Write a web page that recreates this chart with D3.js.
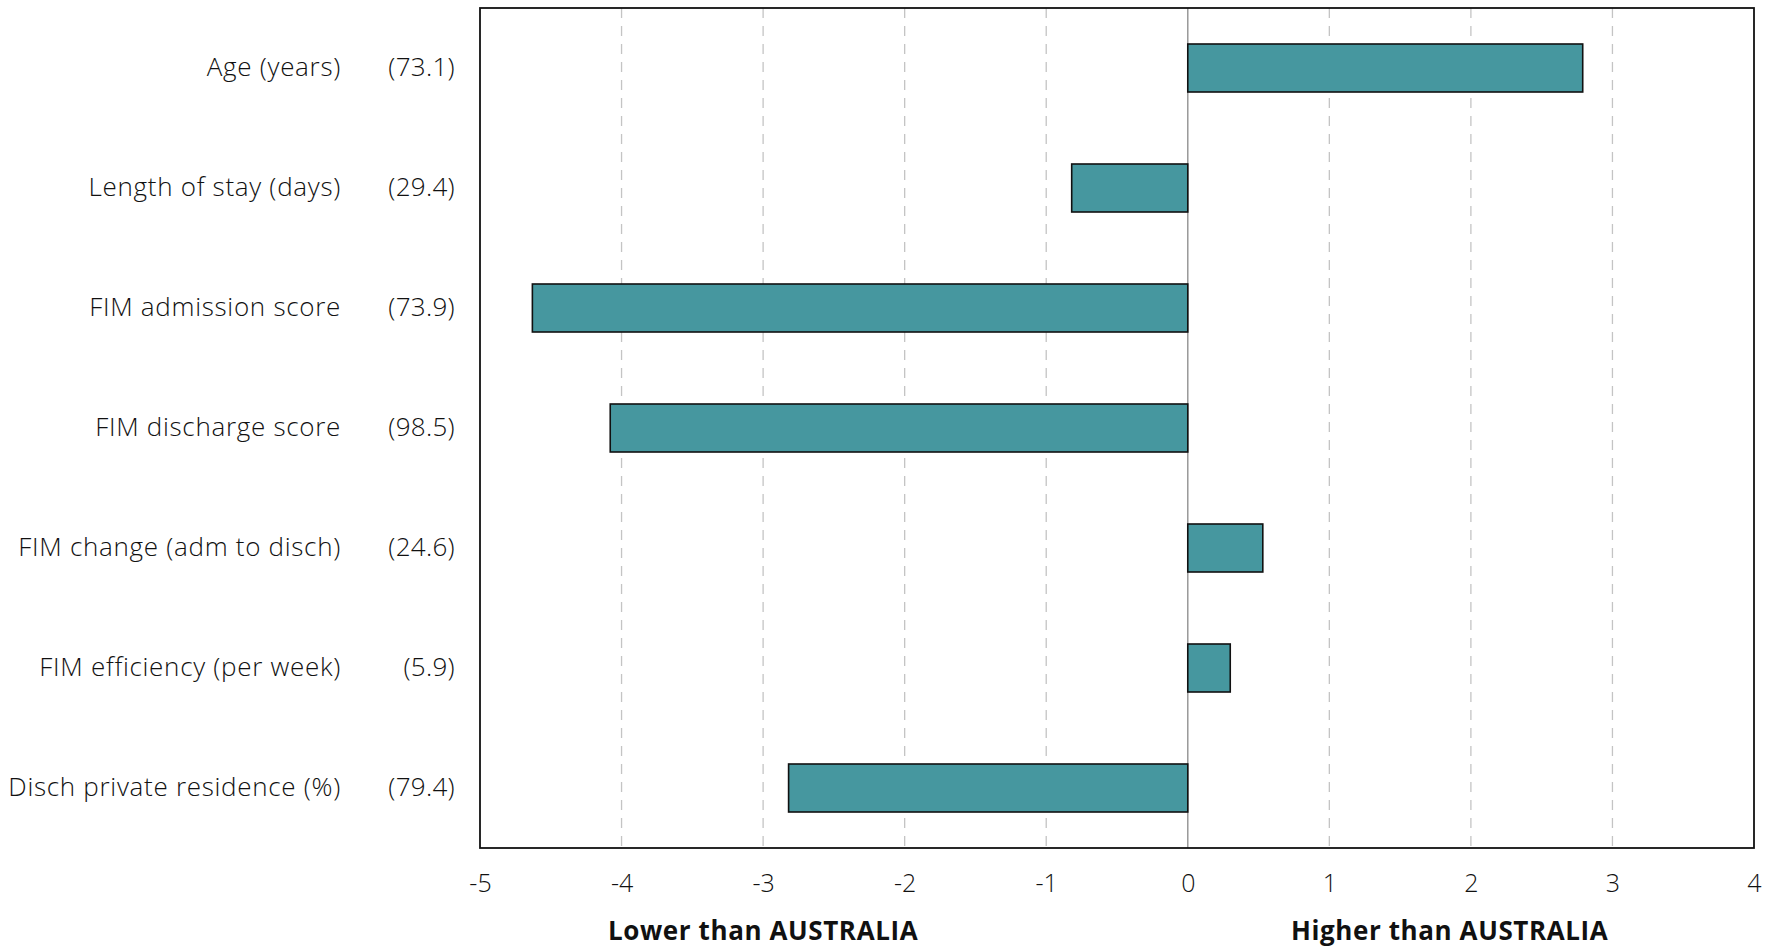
<!DOCTYPE html>
<html>
<head>
<meta charset="utf-8">
<script src="https://cdn.jsdelivr.net/npm/d3@7"></script>
<style>
  html, body { margin: 0; padding: 0; background: #fff; }
  svg { display: block; }
  text { font-family: "Open Sans", Lato, sans-serif; fill: #111; }
</style>
</head>
<body>
<svg id="chart" width="1768" height="952"></svg>
<script>
const categories = [
  "Age (years)",
  "Length of stay (days)",
  "FIM admission score",
  "FIM discharge score",
  "FIM change (adm to disch)",
  "FIM efficiency (per week)",
  "Disch private residence (%)"
];
const referenceValues = ["(73.1)", "(29.4)", "(73.9)", "(98.5)", "(24.6)", "(5.9)", "(79.4)"];
const differences = [2.79, -0.82, -4.63, -4.08, 0.53, 0.30, -2.82];
const xTicks = [-5, -4, -3, -2, -1, 0, 1, 2, 3, 4];
const sideLabels = [
  { text: "Lower than AUSTRALIA", at: -3 },
  { text: "Higher than AUSTRALIA", at: 1.85 }
];

const svg = d3.select("#chart");
const margin = { left: 480, right: 14, top: 8, bottom: 104 };
const W = 1768, H = 952;
const x0 = margin.left, x1 = W - margin.right, y0 = margin.top, y1 = H - margin.bottom;

const x = d3.scaleLinear().domain([-5, 4]).range([x0, x1]);
const y = d3.scaleBand().domain(categories).range([y0, y1]).paddingInner(0.6).paddingOuter(0.3);

// gridlines
svg.append("g").selectAll("line").data(xTicks.filter(t => t !== 0 && t !== -5 && t !== 4))
  .join("line")
  .attr("x1", d => x(d)).attr("x2", d => x(d))
  .attr("y1", y0).attr("y2", y1)
  .attr("stroke", "#c4c4c4").attr("stroke-width", 1.3)
  .attr("stroke-dasharray", "10,8");

// zero line
svg.append("line")
  .attr("x1", x(0)).attr("x2", x(0)).attr("y1", y0).attr("y2", y1)
  .attr("stroke", "#999").attr("stroke-width", 1.5);

// bars
svg.append("g").selectAll("rect").data(categories)
  .join("rect")
  .attr("x", (d, i) => x(Math.min(0, differences[i])))
  .attr("width", (d, i) => Math.abs(x(differences[i]) - x(0)))
  .attr("y", d => y(d))
  .attr("height", y.bandwidth())
  .attr("fill", "#46979f")
  .attr("stroke", "#111").attr("stroke-width", 1.6);

// frame
svg.append("rect")
  .attr("x", x0).attr("y", y0).attr("width", x1 - x0).attr("height", y1 - y0)
  .attr("fill", "none").attr("stroke", "#111").attr("stroke-width", 1.8);

// x axis
const xAxis = d3.axisBottom(x).tickValues(xTicks).tickSize(0).tickPadding(26)
  .tickFormat(d => d < 0 ? "-" + Math.abs(d) : String(d));
const gx = svg.append("g").attr("transform", `translate(0,${y1})`).call(xAxis);
gx.select(".domain").remove();
gx.selectAll("text").attr("font-size", 25).attr("font-family", "'Open Sans', sans-serif")
  .attr("font-weight", 300).attr("fill", "#111");

// category labels
const cy = d => y(d) + y.bandwidth() / 2;
svg.append("g").selectAll("text").data(categories)
  .join("text")
  .attr("x", 341).attr("y", cy).attr("dy", "0.3em")
  .attr("text-anchor", "end").attr("font-size", 26).attr("font-weight", 300)
  .attr("letter-spacing", 0.7)
  .text(d => d);
svg.append("g").selectAll("text").data(categories)
  .join("text")
  .attr("x", 455).attr("y", cy).attr("dy", "0.3em")
  .attr("text-anchor", "end").attr("font-size", 26).attr("font-weight", 300)
  .attr("letter-spacing", 0.3)
  .text((d, i) => referenceValues[i]);

// side labels
svg.append("g").selectAll("text").data(sideLabels)
  .join("text")
  .attr("x", d => x(d.at)).attr("y", 931).attr("dy", "0.35em")
  .attr("text-anchor", "middle").attr("font-size", 26).attr("font-weight", "bold")
  .attr("letter-spacing", 0.6)
  .text(d => d.text);
</script>
</body>
</html>
